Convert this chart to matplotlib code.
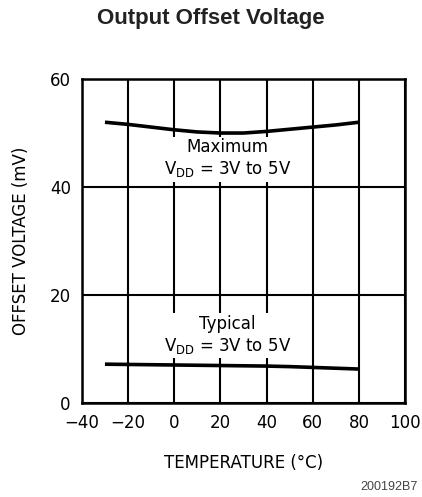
import matplotlib.pyplot as plt
import numpy as np

temp = [-30, -20, -10, 0, 10, 20, 30, 40, 50, 60, 70, 80]
maximum = [52.0, 51.6, 51.1, 50.6, 50.2, 50.0, 50.0, 50.3, 50.7, 51.1, 51.5, 52.0]
typical = [7.2, 7.15, 7.1, 7.05, 7.0, 6.95, 6.9, 6.85, 6.75, 6.6, 6.45, 6.3]

xticks = [-40, -20, 0, 20, 40, 60, 80, 100]
yticks = [0, 20, 40, 60]

plt.rcParams['font.family'] = ['DejaVu Sans']

fig = plt.figure(figsize=(4.22, 4.97), dpi=100)
ax = fig.add_axes([0.194, 0.189, 0.766, 0.652])

ax.plot(temp, maximum, color='black', lw=2.6, solid_capstyle='butt', zorder=3)
ax.plot(temp, typical, color='black', lw=2.6, solid_capstyle='butt', zorder=3)

ax.set_xlim(-40, 100)
ax.set_ylim(0, 60)
ax.set_xticks(xticks)
ax.set_yticks(yticks)
ax.set_xticklabels([str(t).replace('-', '\u2212') for t in xticks])
ax.tick_params(length=0, labelsize=12, pad=8)
ax.grid(True, color='black', lw=1.5)
for s in ax.spines.values():
    s.set_linewidth(1.8)

box = dict(facecolor='white', edgecolor='none', pad=2)
ax.text(23, 45.2, 'Maximum\nV$_{\\rm DD}$ = 3V to 5V', ha='center', va='center',
        fontsize=12, linespacing=1.2, bbox=box, zorder=2)
ax.text(23, 12.6, 'Typical\nV$_{\\rm DD}$ = 3V to 5V', ha='center', va='center',
        fontsize=12, linespacing=1.2, bbox=box, zorder=2)

ax.set_xlabel('TEMPERATURE (°C)', fontsize=12, labelpad=16)
ax.set_ylabel('OFFSET VOLTAGE (mV)', fontsize=12, labelpad=14)

fig.text(0.5, 0.962, 'Output Offset Voltage', ha='center', va='center',
         fontsize=16, fontweight='bold', family='Liberation Sans', color='#222222')
fig.text(0.99, 0.02, '200192B7', ha='right', va='center', fontsize=9,
         family='Liberation Sans', color='#444444')

fig.savefig('out.png', dpi=100)
